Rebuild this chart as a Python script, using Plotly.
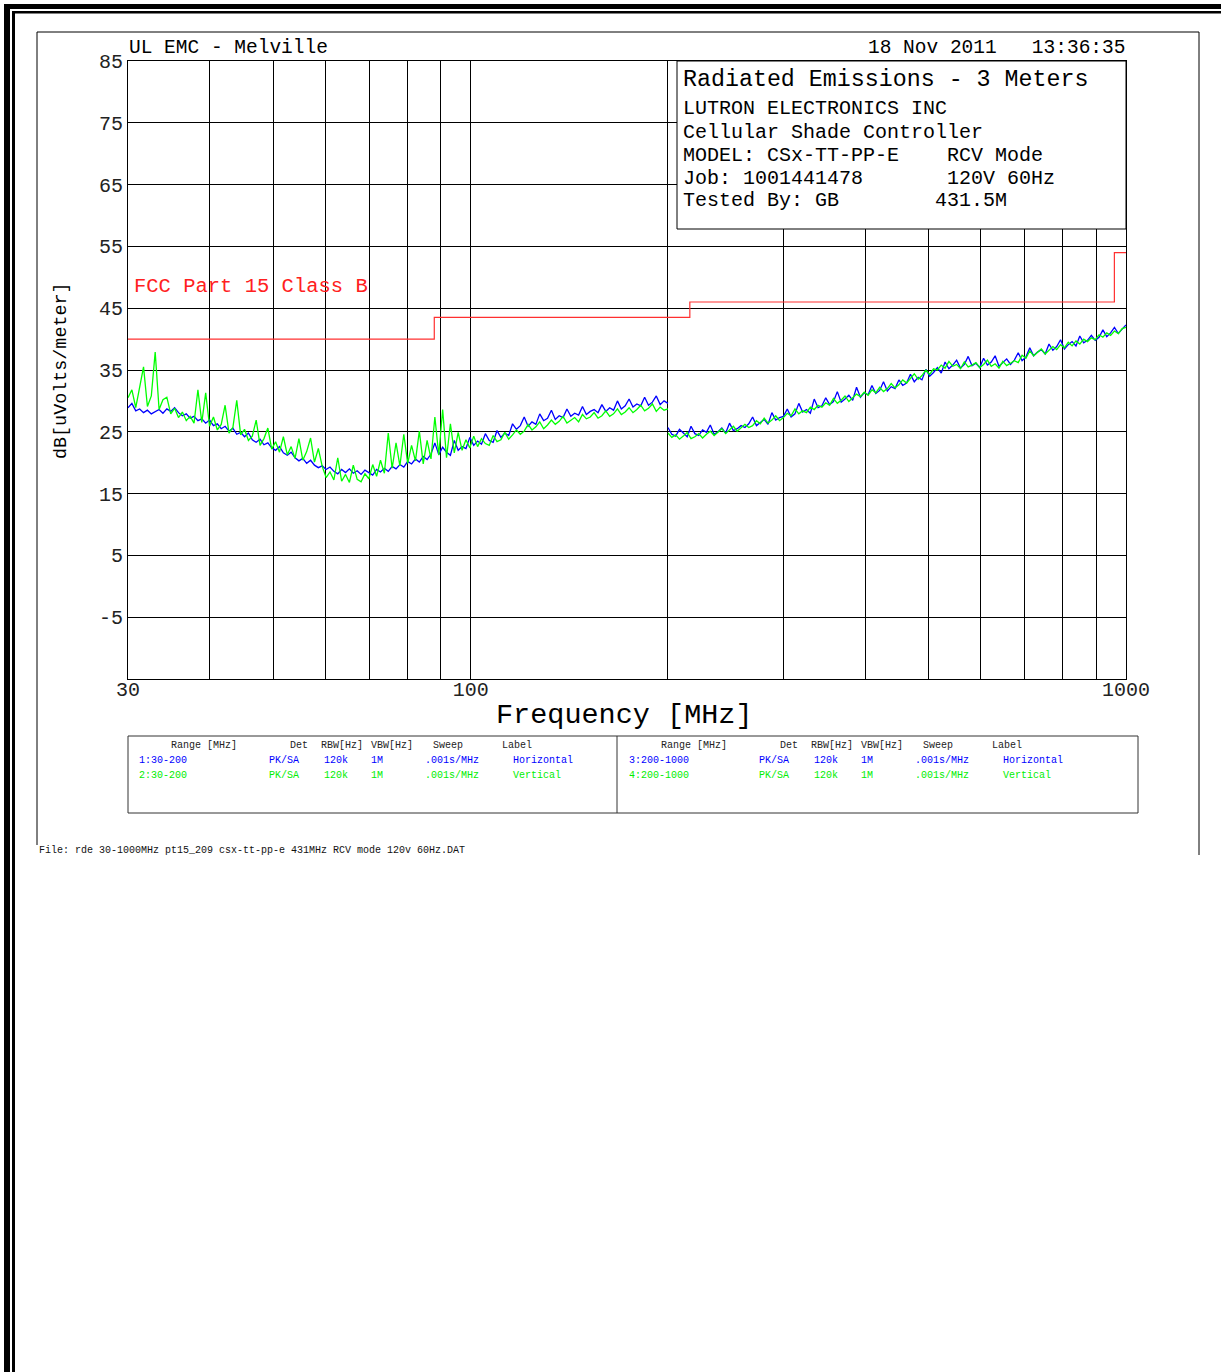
import numpy as np
import plotly.graph_objects as go

# ---------------- data ----------------
# FCC Part 15 Class B limit (step line)
limit_freq = [30, 88, 216, 960, 1000]
limit_db = [40, 43.5, 46, 54, 54]

# sweep 1 / 2 : 30-200 MHz
low_start, low_stop, low_n = 30, 200, 140
horiz_low = [
    28.9, 29.6, 28.4, 28.7, 28.1, 28.5, 27.9, 28.2, 28.6, 28.0,
    28.7, 28.3, 28.9, 28.1, 27.6, 27.9, 27.2, 27.5, 26.8, 27.1,
    26.4, 26.9, 26.0, 26.3, 25.5, 25.9, 25.1, 25.6, 24.6, 24.9,
    24.2, 24.8, 23.7, 23.3, 23.8, 22.9, 23.2, 22.4, 22.0, 22.6,
    21.6, 21.2, 21.7, 20.8, 20.3, 20.7, 19.9, 20.4, 19.6, 19.2,
    19.5, 18.9, 19.3, 18.6, 18.2, 18.9, 18.4, 19.0, 18.3, 18.7,
    18.1, 18.8, 18.4, 18.0, 18.9, 18.5, 19.1, 18.6, 19.4, 19.0,
    19.7, 19.3, 20.2, 19.8, 20.6, 20.1, 21.0, 20.5, 21.4, 23.2,
    21.3, 22.5, 21.7, 21.2, 23.6, 22.0, 22.6, 22.3, 24.1, 22.8,
    23.5, 23.0, 24.7, 23.6, 23.3, 25.2, 24.1, 24.8, 24.4, 26.3,
    25.4, 26.0, 27.4, 25.9, 26.6, 26.2, 27.9, 26.8, 27.2, 28.5,
    27.0, 27.6, 27.3, 28.7, 27.5, 28.0, 27.7, 29.1, 27.8, 28.3,
    28.6, 28.1, 29.4, 28.3, 28.9, 28.5, 30.0, 28.7, 29.2, 30.3,
    29.0, 29.5, 29.2, 30.6, 29.3, 29.8, 30.8, 29.4, 30.0, 29.6,
]
vert_low = [
    30.5, 31.8, 28.9, 32.2, 35.5, 29.1, 30.8, 37.9, 28.6, 30.2,
    30.6, 27.9, 28.8, 27.3, 28.2, 26.8, 27.5, 26.4, 31.8, 26.5,
    31.3, 25.9, 27.4, 25.3, 26.2, 29.3, 24.8, 25.7, 30.1, 24.5,
    25.4, 23.6, 24.3, 26.9, 22.8, 23.9, 25.6, 22.2, 23.4, 21.7,
    24.2, 21.3, 22.6, 20.7, 23.9, 20.4, 21.8, 24.0, 20.1, 22.3,
    19.4, 17.6, 18.5, 17.2, 20.8, 17.0, 18.1, 16.8, 19.6, 17.3,
    16.9, 18.2, 17.4, 19.7, 17.8, 20.4, 18.3, 24.8, 19.1, 23.2,
    19.5, 24.6, 19.9, 22.8, 20.3, 25.1, 19.8, 23.6, 20.6, 27.4,
    21.2, 28.6, 20.8, 26.3, 21.6, 24.9, 22.0, 23.7, 22.4, 24.3,
    22.6, 23.9, 23.1, 22.8, 24.4, 23.4, 23.7, 24.9, 23.8, 24.5,
    25.3, 24.6, 25.1, 26.2, 25.3, 25.8, 26.6, 25.5, 26.1, 26.9,
    26.2, 26.7, 27.5, 26.4, 26.9, 27.3, 26.6, 27.8, 27.1, 27.4,
    28.1, 27.2, 27.6, 28.4, 27.5, 27.9, 28.7, 27.8, 28.2, 28.9,
    28.1, 28.6, 29.3, 28.4, 28.8, 29.5, 28.3, 29.0, 28.5, 28.7,
]

# sweep 3 / 4 : 200-1000 MHz
high_start, high_stop, high_n = 200, 1000, 120
horiz_high = [
    25.7, 24.6, 24.3, 25.4, 24.8, 24.2, 25.9, 24.7, 24.4, 25.3,
    24.9, 26.1, 24.6, 25.0, 25.6, 24.8, 26.4, 25.2, 25.5, 26.0,
    25.7, 26.3, 27.4, 26.0, 26.5, 27.0, 26.2, 28.1, 26.9, 27.3,
    27.5, 28.7, 27.4, 27.9, 29.6, 28.2, 28.6, 28.0, 30.3, 28.9,
    29.2, 30.5, 29.4, 29.9, 31.5, 29.8, 30.3, 30.9, 30.1, 32.2,
    30.6, 31.3, 31.0, 32.5, 31.2, 31.7, 33.1, 31.6, 32.3, 32.0,
    33.4, 32.5, 32.9, 34.3, 33.1, 33.8, 33.4, 35.1, 34.0, 34.6,
    35.4, 34.5, 36.3, 35.2, 35.8, 36.6, 35.3, 35.9, 37.2, 35.7,
    36.1, 35.4, 36.9, 35.8, 36.3, 37.3, 35.6, 36.2, 36.8, 35.9,
    36.6, 37.8, 36.5, 37.1, 38.6, 37.3, 37.9, 38.3, 37.6, 39.2,
    38.2, 38.8, 39.9, 38.4, 39.1, 39.6, 38.9, 40.5, 39.4, 39.8,
    40.6, 39.8, 40.3, 41.5, 40.4, 41.0, 41.9, 40.9, 41.6, 42.3,
]
vert_high = [
    24.8, 24.1, 24.5, 23.8, 24.3, 24.9, 23.9, 24.2, 24.7, 24.0,
    24.6, 25.1, 24.4, 24.9, 25.5, 24.7, 25.3, 25.9, 25.1, 25.6,
    26.2, 25.7, 26.0, 26.8, 26.3, 27.2, 26.4, 26.9, 27.6, 26.8,
    27.3, 28.0, 27.6, 28.7, 27.9, 28.4, 28.1, 29.0, 28.6, 29.3,
    29.0, 29.7, 29.3, 30.4, 29.6, 30.1, 30.8, 29.9, 30.5, 31.1,
    30.7, 31.4, 30.9, 31.8, 31.3, 32.2, 31.5, 32.0, 32.8, 32.1,
    32.6, 33.4, 32.9, 33.7, 34.4, 33.5, 34.1, 35.0, 34.3, 35.2,
    35.0, 35.8, 35.3, 36.4, 35.6, 35.9, 35.2, 36.3, 35.5, 35.8,
    36.2, 35.4, 35.9, 36.6, 35.6, 36.0, 35.3, 36.4, 35.7, 36.1,
    36.5, 36.2, 37.4, 36.9, 38.1, 37.3, 37.8, 38.4, 37.6, 38.2,
    38.8, 38.3, 39.1, 38.6, 39.5, 38.9, 39.7, 39.2, 40.0, 39.6,
    40.2, 39.9, 40.7, 40.3, 41.0, 40.6, 41.3, 40.9, 41.7, 41.9,
]

y_ticks = [85, 75, 65, 55, 45, 35, 25, 15, 5, -5]
x_grid = [30, 40, 50, 60, 70, 80, 90, 100, 200, 300, 400, 500, 600, 700, 800, 900, 1000]
x_labels = {30: "30", 100: "100", 1000: "1000"}

info_title = "Radiated Emissions - 3 Meters"
info_lines = [
    "LUTRON ELECTRONICS INC",
    "Cellular Shade Controller",
    "MODEL: CSx-TT-PP-E    RCV Mode",
    "Job: 1001441478       120V 60Hz",
    "Tested By: GB        431.5M",
]
table_header = ["Range [MHz]", "Det", "RBW[Hz]", "VBW[Hz]", "Sweep", "Label"]
table_rows = [
    (["1:30-200", "PK/SA", "120k", "1M", ".001s/MHz", "Horizontal"], "#0000ff"),
    (["2:30-200", "PK/SA", "120k", "1M", ".001s/MHz", "Vertical"], "#00ee00"),
    (["3:200-1000", "PK/SA", "120k", "1M", ".001s/MHz", "Horizontal"], "#0000ff"),
    (["4:200-1000", "PK/SA", "120k", "1M", ".001s/MHz", "Vertical"], "#00ee00"),
]

# ---------------- layout geometry (pixels) ----------------
W, H = 1221, 1372
PL, PR, PT, PB = 128, 1126, 61, 679


def px(x):
    return (x - PL) / (PR - PL)


def py(y):
    return (PB - y) / (PB - PT)


FONT = "Liberation Mono, DejaVu Sans Mono, monospace"

f_low = np.geomspace(low_start, low_stop, low_n)
f_high = np.geomspace(high_start, high_stop, high_n)

LW = 1.3
fig = go.Figure()
fig.add_trace(go.Scatter(x=f_low, y=horiz_low, mode="lines",
                         line=dict(color="#0000ff", width=LW)))
fig.add_trace(go.Scatter(x=f_high, y=horiz_high, mode="lines",
                         line=dict(color="#0000ff", width=LW)))
fig.add_trace(go.Scatter(x=f_low, y=vert_low, mode="lines",
                         line=dict(color="#00ff00", width=LW)))
fig.add_trace(go.Scatter(x=f_high, y=vert_high, mode="lines",
                         line=dict(color="#00ff00", width=LW)))
fig.add_trace(go.Scatter(x=limit_freq, y=limit_db, mode="lines",
                         line=dict(color="#ff3030", width=1.2, shape="hv")))

shapes = []
# outer frame (double lines, left and top)
shapes.append(dict(type="rect", xref="paper", yref="paper",
                   x0=px(4), x1=px(10), y0=py(H), y1=py(4),
                   fillcolor="black", line=dict(width=0), layer="above"))
shapes.append(dict(type="rect", xref="paper", yref="paper",
                   x0=px(4), x1=px(W), y0=py(9), y1=py(4),
                   fillcolor="black", line=dict(width=0), layer="above"))
shapes.append(dict(type="rect", xref="paper", yref="paper",
                   x0=px(12), x1=px(15), y0=py(H), y1=py(11),
                   fillcolor="black", line=dict(width=0), layer="above"))
shapes.append(dict(type="rect", xref="paper", yref="paper",
                   x0=px(12), x1=px(W), y0=py(13.5), y1=py(11),
                   fillcolor="black", line=dict(width=0), layer="above"))
# inner page box (left, top, right)
for (x0, y0, x1, y1) in [(37, 32, 1199, 32), (37, 32, 37, 845), (1199, 32, 1199, 855)]:
    shapes.append(dict(type="line", xref="paper", yref="paper",
                       x0=px(x0), y0=py(y0), x1=px(x1), y1=py(y1),
                       line=dict(color="black", width=1), layer="above"))
# information box
shapes.append(dict(type="rect", xref="paper", yref="paper",
                   x0=px(677), x1=px(1126), y0=py(229), y1=py(61),
                   fillcolor="white", line=dict(color="black", width=1), layer="above"))
# table box
shapes.append(dict(type="rect", xref="paper", yref="paper",
                   x0=px(128), x1=px(1138), y0=py(813), y1=py(736),
                   fillcolor="white", line=dict(color="#333", width=1), layer="above"))
shapes.append(dict(type="line", xref="paper", yref="paper",
                   x0=px(617), x1=px(617), y0=py(813), y1=py(736),
                   line=dict(color="#333", width=1), layer="above"))

annotations = []


def note(text, x, y, size, color="black", xanchor="left", angle=0, yanchor="middle"):
    annotations.append(dict(text=text, x=px(x), y=py(y), xref="paper", yref="paper",
                            xanchor=xanchor, yanchor=yanchor, showarrow=False,
                            textangle=angle, align="left",
                            font=dict(family=FONT, size=size, color=color)))


note("UL EMC - Melville", 127, 48, 19.5)
note("18 Nov 2011   13:36:35", 1127, 48, 19.5, xanchor="right")
note(info_title, 681, 80, 23.3)
for i, t in enumerate(info_lines):
    note(t, 681, 109 + 23 * i, 20)
note("FCC Part 15 Class B", 132, 286, 20.5, color="#ff2020")
note("Frequency [MHz]", 624, 715, 28.5, xanchor="center")
note("dB[uVolts/meter]", 62, 371, 18.4, xanchor="center", angle=-90)

col_left = [169, 288, 319, 369, 431, 500]
data_left = [137, 267, 322, 369, 423, 511]
for half in (0, 1):
    off = 490 * half
    for t, x in zip(table_header, col_left):
        note(t, x + off, 745, 10, color="#222")
    for r in range(2):
        vals, col = table_rows[half * 2 + r]
        for t, x in zip(vals, data_left):
            note(t, x + off, 760 + 15 * r, 10, color=col)

note("File: rde 30-1000MHz pt15_209 csx-tt-pp-e 431MHz RCV mode 120v 60Hz.DAT", 37, 850, 10, color="#111")

fig.update_layout(
    width=W, height=H,
    margin=dict(l=PL, r=W - PR, t=PT, b=H - PB, pad=0),
    paper_bgcolor="white", plot_bgcolor="white",
    showlegend=False,
    shapes=shapes, annotations=annotations,
    font=dict(family=FONT, color="black"),
    xaxis=dict(type="log", range=[np.log10(30), np.log10(1000)],
               tickmode="array", tickvals=x_grid,
               ticktext=[x_labels.get(v, "") for v in x_grid],
               showgrid=True, gridcolor="black", gridwidth=1,
               showline=True, linecolor="black", linewidth=1, mirror=True,
               ticks="", zeroline=False, ticklabelstandoff=-8,
               tickfont=dict(family=FONT, size=20, color="#222")),
    yaxis=dict(range=[-15, 85], tickmode="array", tickvals=y_ticks,
               ticktext=[str(v) for v in y_ticks],
               showgrid=True, gridcolor="black", gridwidth=1,
               showline=True, linecolor="black", linewidth=1, mirror=True,
               ticks="", zeroline=False,
               tickfont=dict(family=FONT, size=20, color="#222")),
)

fig.write_html("out.html")
